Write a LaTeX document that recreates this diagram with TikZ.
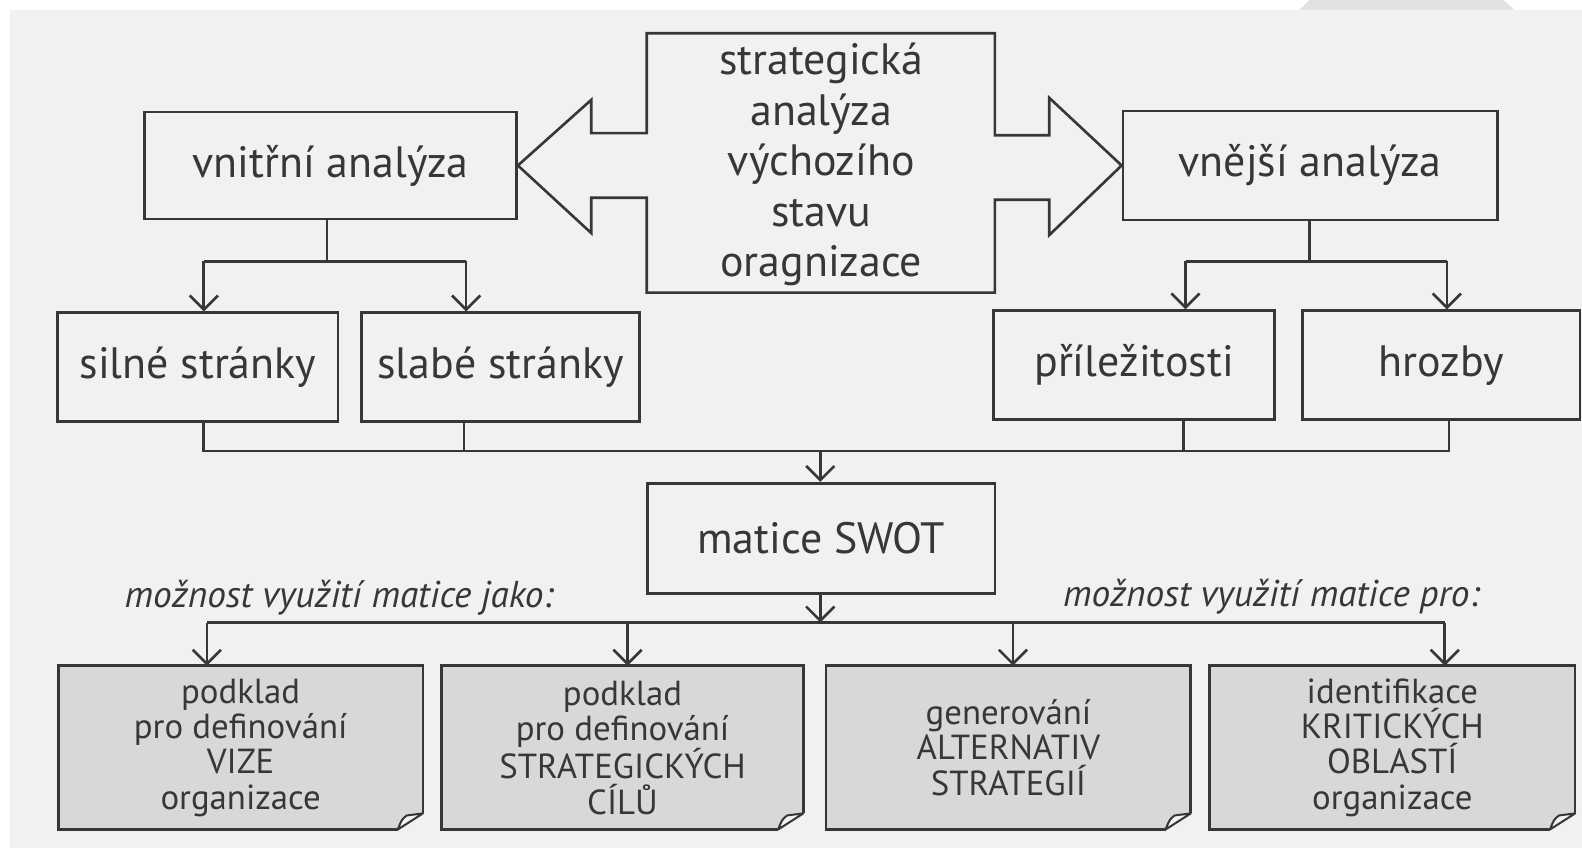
\documentclass[tikz,border=0pt]{standalone}
\usepackage{fontspec}
\setmainfont{PT Sans}
\usetikzlibrary{arrows.meta}
\definecolor{paper}{RGB}{241,241,240}
\definecolor{ink}{RGB}{55,55,55}
\definecolor{cardgray}{RGB}{216,216,216}
\definecolor{smudge}{RGB}{225,226,225}

% folded-corner outline drawn over a filled card node
\newcommand\dogear[1]{%
  \fill[paper] ([yshift=16pt]#1.south east) -- (#1.south east) -- ([xshift=-25pt]#1.south east) -- cycle;
  \draw[conn, line join=miter] ([xshift=-25pt]#1.south east) -- (#1.south west) -- (#1.north west) -- (#1.north east) -- ([yshift=16pt]#1.south east);
  \filldraw[fill=white!70!cardgray, draw=ink, line width=2pt, line join=round]
    ([yshift=16pt]#1.south east) -- ([xshift=-25pt]#1.south east)
    .. controls ([xshift=-21pt,yshift=10pt]#1.south east) .. ([xshift=-16pt,yshift=14pt]#1.south east) -- cycle;
}

\begin{document}
\begin{tikzpicture}[x=1pt,y=-1pt,
  box/.style={draw=ink, line width=2.6pt, rectangle, inner sep=0pt, text=ink,
    align=center, font=\fontsize{43.5}{50}\selectfont},
  card/.style={fill=cardgray, rectangle, inner sep=0pt, text=ink, align=center,
    font=\fontsize{34.5}{35}\selectfont, minimum height=162pt},
  conn/.style={draw=ink, line width=2.6pt},
  arr/.style={conn, -{Straight Barb[length=14pt,width=28pt]}},
  note/.style={text=ink, inner sep=0pt, font=\fontsize{37}{40}\selectfont\itshape}
]
\useasboundingbox (0,0) rectangle (1568,840);
\fill[white] (0,0) rectangle (1568,840);
\fill[paper] (10,10) rectangle (1568,840);
\fill[smudge] (1298,0) -- (1490,0) -- (1501,10) -- (1288,10) -- cycle;

% analysis boxes
\node[box, minimum width=369pt, minimum height=106pt] (vnitrni) at (327.5,164) {vnitřní analýza};
\node[box, minimum width=371pt, minimum height=108pt] (vnejsi) at (1298.5,164) {vnější analýza};

% central double arrow
\node[text=ink, align=center, inner sep=0pt, font=\fontsize{43.5}{50}\selectfont] (strat) at (814,163)
  {strategická\\analýza\\výchozího\\stavu\\oragnizace};
\draw[conn, line join=miter] (vnitrni.east) -- (586,99) -- (586,132) -- (641,132) -- (641,33)
  -- (986,33) -- (986,134) -- (1040,134) -- (1040,97) -- (vnejsi.west) -- (1040,233)
  -- (1040,198) -- (986,198) -- (986,290) -- (641,290) -- (641,196) -- (586,196)
  -- (586,231) -- cycle;

% SWOT factors
\node[box, minimum width=278pt, minimum height=108pt] (silne) at (196,364) {silné stránky};
\node[box, minimum width=276pt, minimum height=108pt] (slabe) at (496,364) {slabé stránky};
\node[box, minimum width=278pt, minimum height=108pt] (prilez) at (1124,362) {příležitosti};
\node[box, minimum width=275pt, minimum height=108pt] (hrozby) at (1428.5,362) {hrozby};

\node[box, minimum width=344pt, minimum height=109pt] (matice) at (814,533.5) {matice SWOT};

% splits below the analysis boxes
\coordinate (ja) at (324,259);
\coordinate (sa) at (202,259);
\coordinate (sb) at (462,259);
\draw[conn] (vnitrni.south -| ja) -- (ja);
\draw[conn] (sa) -- (sb);
\draw[arr] (sa) -- (sa |- silne.north);
\draw[arr] (sb) -- (sb |- slabe.north);

\coordinate (jb) at (1298,259);
\coordinate (pa) at (1175,259);
\coordinate (pb) at (1434,259);
\draw[conn] (vnejsi.south -| jb) -- (jb);
\draw[conn] (pa) -- (pb);
\draw[arr] (pa) -- (pa |- prilez.north);
\draw[arr] (pb) -- (pb |- hrozby.north);

% merge into the matrix
\coordinate (ma) at (202,447);
\coordinate (mb) at (460,447);
\coordinate (mc) at (1173,447);
\coordinate (md) at (1436,447);
\coordinate (mm) at (813,447);
\draw[conn] (ma |- silne.south) -- (ma) -- (md) -- (md |- hrozby.south);
\draw[conn] (mb |- slabe.south) -- (mb);
\draw[conn] (mc |- prilez.south) -- (mc);
\draw[arr] (mm) -- (mm |- matice.north);

% uses of the matrix
\node[note] (jako) at (336,592) {možnost využití matice jako:};
\node[note] (pro) at (1260,591) {možnost využití matice pro:};

\node[card, minimum width=361pt] (c1) at (238.5,741) {podklad\\pro definování\\VIZE\\organizace};
\node[card, minimum width=358pt] (c2) at (617,741) {podklad\\pro definování\\STRATEGICKÝCH\\CÍLŮ};
\node[card, minimum width=361pt] (c3) at (999.5,741) {generování\\ALTERNATIV\\STRATEGIÍ};
\node[card, minimum width=362pt] (c4) at (1380,741) {identifikace\\KRITICKÝCH\\OBLASTÍ\\organizace};
\dogear{c1}\dogear{c2}\dogear{c3}\dogear{c4}

\coordinate (bm) at (813,617);
\coordinate (ba) at (205,617);
\coordinate (bb) at (622,617);
\coordinate (bc) at (1004,617);
\coordinate (bd) at (1432,617);
\draw[arr] (matice.south -| bm) -- (bm);
\draw[conn] (ba) -- (bd);
\draw[arr] (ba) -- (ba |- c1.north);
\draw[arr] (bb) -- (bb |- c2.north);
\draw[arr] (bc) -- (bc |- c3.north);
\draw[arr] (bd) -- (bd |- c4.north);
\end{tikzpicture}
\end{document}
